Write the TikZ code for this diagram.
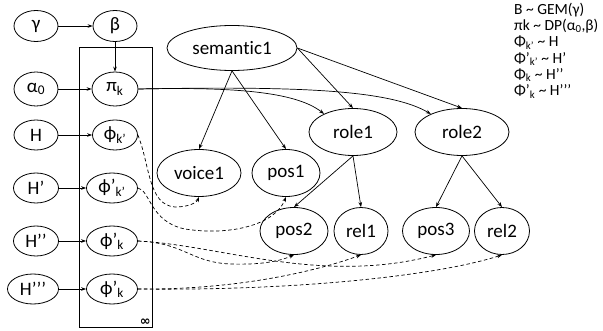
\documentclass[tikz,border=0pt]{standalone}
\usepackage{fontspec}
\setmainfont{Carlito}[Ligatures=CommonOff]
\newfontfamily\djv{DejaVu Sans}
\usetikzlibrary{shapes.geometric,arrows.meta}
\begin{document}
\begin{tikzpicture}[x=1pt,y=-1pt,
  every node/.style={font=\fontsize{19}{22}\selectfont},
  ell/.style={draw, ellipse, inner sep=0pt, line width=0.8pt},
  arr/.style={-{Stealth[length=5pt,width=3.6pt]}, line width=0.7pt},
  dsh/.style={arr, dash pattern=on 3.5pt off 2.5pt}
]
\useasboundingbox (0,0) rectangle (603,331);
% plate
\node[draw, line width=0.8pt, minimum width=73pt, minimum height=280pt, inner sep=0pt] (plate) at (115.5,187) {};
\node[anchor=south east, inner sep=1.5pt, font=\djv\bfseries\fontsize{13}{13}\selectfont] (inf) at (plate.south east) {∞};
% left column
\node[ell, minimum width=44pt, minimum height=31pt] (gamma) at (36,26) {γ};
\node[ell, minimum width=44pt, minimum height=34pt] (alpha) at (36,89) {α\textsubscript{0}};
\node[ell, minimum width=44pt, minimum height=30pt] (H1) at (36,135) {H};
\node[ell, minimum width=45pt, minimum height=30pt] (H2) at (36,188) {H’};
\node[ell, minimum width=45pt, minimum height=30pt] (H3) at (36,241) {H’’};
\node[ell, minimum width=51pt, minimum height=30pt] (H4) at (33,289) {H’’’};
% second column
\node[ell, minimum width=44pt, minimum height=31pt] (beta) at (115,26) {β};
\node[ell, minimum width=46pt, minimum height=34pt] (pik) at (115,89) {π\textsubscript{k}};
\node[ell, minimum width=45pt, minimum height=30pt] (phikp) at (115,135) {ϕ\textsubscript{k’}};
\node[ell, minimum width=51pt, minimum height=30pt] (phipkp) at (112,188) {ϕ’\textsubscript{k’}};
\node[ell, minimum width=51pt, minimum height=30pt] (phik3) at (112,241) {ϕ’\textsubscript{k}};
\node[ell, minimum width=51pt, minimum height=30pt] (phik4) at (112,289) {ϕ’\textsubscript{k}};
% right graph
\node[ell, minimum width=130pt, minimum height=45pt] (sem) at (232,48) {semantic1};
\node[ell, minimum width=88pt, minimum height=47pt] (role1) at (353,132) {role1};
\node[ell, minimum width=94pt, minimum height=47pt] (role2) at (462,132) {role2};
\node[ell, minimum width=84pt, minimum height=47pt] (voice1) at (199,173) {voice1};
\node[ell, minimum width=68pt, minimum height=47pt] (pos1) at (286,173) {pos1};
\node[ell, minimum width=68pt, minimum height=47pt] (pos2) at (294,231) {pos2};
\node[ell, minimum width=54pt, minimum height=47pt] (rel1) at (361,231) {rel1};
\node[ell, minimum width=67pt, minimum height=47pt] (pos3) at (436,231) {pos3};
\node[ell, minimum width=55pt, minimum height=47pt] (rel2) at (502,231) {rel2};
% equations
\node[anchor=north west, align=left, inner sep=0pt, font=\fontsize{15.5}{16.2}\selectfont] (eqs) at (514,3)
 {B \textasciitilde{} GEM(γ)\\
  πk \textasciitilde{} DP(α\textsubscript{0},β)\\
  Φ\textsubscript{k’} \textasciitilde{} H\\
  Φ’\textsubscript{k’} \textasciitilde{} H’\\
  Φ\textsubscript{k} \textasciitilde{} H’’\\
  Φ’\textsubscript{k} \textasciitilde{} H’’’};
% solid arrows
\draw[arr] (gamma) -- (beta);
\draw[arr] (beta) -- (pik);
\draw[arr] (alpha) -- (pik);
\draw[arr] (H1) -- (phikp);
\draw[arr] (H2) -- (phipkp);
\draw[arr] (H3) -- (phik3);
\draw[arr] (H4) -- (phik4);
\draw[arr] (sem.south) -- (voice1.north);
\draw[arr] (sem.south) -- (pos1.north);
\draw[arr] (sem.east) -- (role1.north);
\draw[arr] (sem.east) -- (role2.north);
\draw[arr] (role1.south) -- (pos2.north);
\draw[arr] (role1.south) -- (rel1.north);
\draw[arr] (role2.south) -- (pos3.north);
\draw[arr] (role2.south) -- (rel2.north);
\draw[arr] (pik.east) .. controls (230,87) and (295,91) .. (role1.148);
\draw[arr] (pik.east) .. controls (300,86) and (390,90) .. (role2.150);
% dashed arrows
\draw[dsh] (phikp.east) .. controls (150,165) and (148,205) .. (175,207) .. controls (190,207) and (197,202) .. (voice1.south);
\draw[dsh] (phipkp.east) .. controls (150,190) and (150,222) .. (185,229) .. controls (230,236) and (275,225) .. (pos1.south);
\draw[dsh] (phik3.east) .. controls (185,243) and (190,262) .. (230,264) .. controls (262,265) and (280,261) .. (pos2.south);
\draw[dsh] (phik3.east) .. controls (220,245) and (320,285) .. (pos3.south);
\draw[dsh] (phik4.east) .. controls (240,290) and (320,270) .. (rel1.south);
\draw[dsh] (phik4.east) .. controls (300,291) and (440,275) .. (rel2.south);
\end{tikzpicture}
\end{document}
